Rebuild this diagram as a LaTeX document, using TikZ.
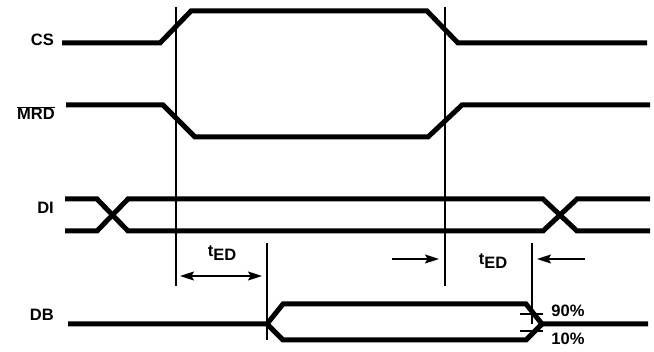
\documentclass[tikz,border=0pt]{standalone}
\usepackage{fontspec}
\setmainfont{Liberation Sans}
\usetikzlibrary{positioning, arrows.meta}

\begin{document}
\begin{tikzpicture}[
                        x=1pt, y=-1pt,
                        signal/.style={line width=5pt, line join=miter},
                        marker/.style={line width=1.3pt},
                        tick/.style={line width=1.2pt},
                        dimline/.style={line width=1.3pt},
                        label/.style={anchor=east, font=\fontsize{16.5}{19}\selectfont\bfseries, inner sep=0pt},
                        tag/.style={font=\fontsize{16.5}{19}\selectfont\bfseries, inner sep=0pt},
                        >={Stealth[length=14pt, width=9pt, inset=2.5pt]},
                    ]
                        \useasboundingbox (0,0) rectangle (654,352);

                        % reference lines
                        \coordinate (v1top) at (176,7);
                        \coordinate (v1bot) at (176,286);
                        \coordinate (v2top) at (445,7);
                        \coordinate (v2bot) at (445,286);
                        \coordinate (v3top) at (267,243);
                        \coordinate (v3bot) at (267,340);
                        \coordinate (v4top) at (532,243);
                        \coordinate (v4bot) at (532,324);
                        \draw[marker] (v1top) -- (v1bot);
                        \draw[marker] (v2top) -- (v2bot);
                        \draw[marker] (v3top) -- (v3bot);
                        \draw[marker] (v4top) -- (v4bot);

                        % signal names
                        \node[label] (cs_label) at (54,40) {CS};
                        \node[label] (mrd_label) at (55,113) {$\overline{\mbox{MRD}}$};
                        \node[label] (di_label) at (54,208) {DI};
                        \node[label] (db_label) at (54,315) {DB};

                        % waveforms
                        \draw[signal] (62,43) -- (160,43) -- (191,11) -- (427,11) -- (458,43) -- (647,43); % CS
                        \draw[signal] (66,105) -- (163,105) -- (195,137) -- (428,137) -- (462,105) -- (650,105); % MRD
                        \draw[signal] (65,199) -- (97,199) -- (128,231) -- (543,231) -- (577,199) -- (650,199); % DI
                        \draw[signal] (65,231) -- (97,231) -- (128,199) -- (543,199) -- (577,231) -- (650,231);
                        \coordinate (db_start) at (267,324);
                        \coordinate (db_end) at (542,324);
                        \draw[signal] (68,324) -- (db_start) -- (283,304) -- (526,304) -- (db_end) -- (648,324); % DB
                        \draw[signal] (db_start) -- (283,340) -- (526,340) -- (db_end);

                        % 90% / 10% levels
                        \draw[tick] (520,314) -- (543,314);
                        \draw[tick] (520,331) -- (543,331);
                        \node[tag] (high_level) at (568,311) {90\%};
                        \node[tag] (low_level) at (568,339) {10\%};

                        % timing
                        \coordinate (ted_a) at (180,276);
                        \coordinate (ted_b) at (262,276);
                        \coordinate (arr_r_start) at (392,259);
                        \coordinate (arr_r_end) at (439,259);
                        \coordinate (arr_l_start) at (585,259);
                        \coordinate (arr_l_end) at (537,259);
                        \draw[dimline, <->] (ted_a) -- (ted_b);
                        \draw[dimline, ->] (arr_r_start) -- (arr_r_end);
                        \draw[dimline, ->] (arr_l_start) -- (arr_l_end);
                        \node[tag] (ted_left) at (222,253) {t\raisebox{-0.4ex}{ED}};
                        \node[tag] (ted_right) at (493,261) {t\raisebox{-0.4ex}{ED}};
                    \end{tikzpicture}
\end{document}
